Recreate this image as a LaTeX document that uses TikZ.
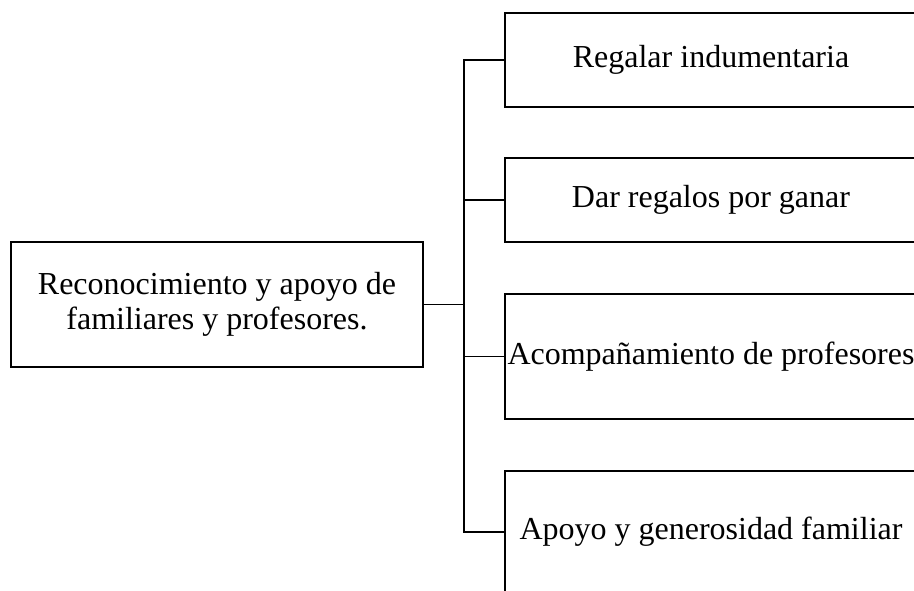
\documentclass[tikz,border=0pt]{standalone}
\usepackage{fontspec}
\setmainfont{Liberation Serif}
\begin{document}
\begin{tikzpicture}[x=1pt,y=-1pt,
  box/.style={draw, line width=1.6pt, inner sep=0pt, minimum width=412pt, font=\fontsize{32}{35}\selectfont, align=center},
  conn/.style={line width=1.6pt}]
\useasboundingbox (0,0) rectangle (914,590);
\clip (0,0) rectangle (914,590);
\node[box, minimum height=125pt] (root) at (217,304.5) {Reconocimiento y apoyo de\\familiares y profesores.};
\node[box, minimum height=94pt] (b1) at (711,60) {Regalar indumentaria};
\node[box, minimum height=84pt] (b2) at (711,200) {Dar regalos por ganar};
\node[box, minimum height=125pt] (b3) at (711,356.5) {Acompañamiento de profesores};
\node[box, minimum height=122pt] (b4) at (711,532) {Apoyo y generosidad familiar};
\coordinate (j) at (464,304.5);
\draw[conn] (root.east) -- (j);
\draw[conn] (b1.west) -- (b1.west -| j) -- (b4.west -| j) -- (b4.west);
\draw[conn] (b2.west) -- (b2.west -| j);
\draw[conn] (b3.west) -- (b3.west -| j);
\end{tikzpicture}
\end{document}
